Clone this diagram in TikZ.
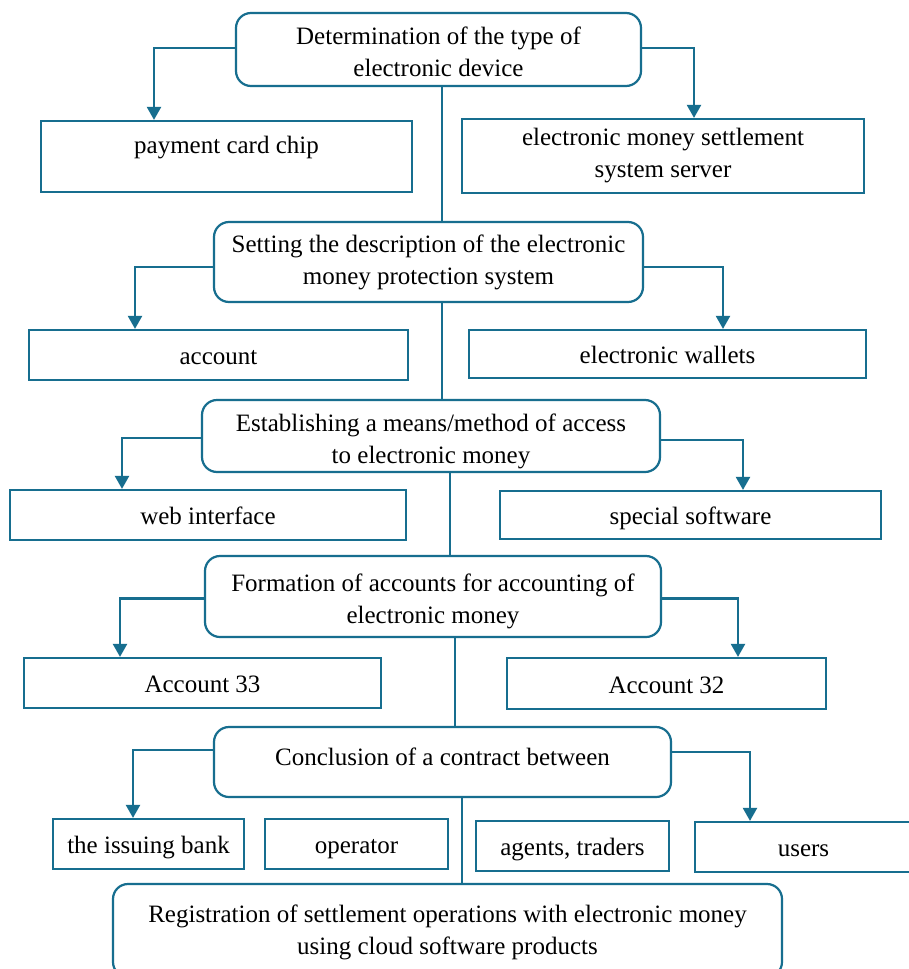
\documentclass[tikz,border=0pt]{standalone}
\usepackage{fontspec}
\setmainfont{Liberation Serif}
\usetikzlibrary{arrows.meta}
\definecolor{lineblue}{HTML}{176E8F}

\begin{document}
\begin{tikzpicture}[x=1pt,y=1pt,
  every node/.style={font=\fontsize{25}{32}\selectfont, align=center, inner sep=0pt},
  stage/.style={draw=lineblue, line width=2.2pt, rounded corners=15pt, fill=white},
  item/.style={draw=lineblue, line width=2.2pt, fill=white},
  oneline/.style={text height=25pt, text depth=6pt},
  link/.style={draw=lineblue, line width=2.2pt},
  arr/.style={link, -{Triangle[length=13pt,width=14pt]}}]

% white background, fixes the page size
\fill[white] (0,0) rectangle (909,-969);
\useasboundingbox (0,0) rectangle (909,-969);

% main stages (rounded boxes)
\node[stage, minimum width=405pt, minimum height=73pt] (device) at (438.5,-49.5) {\rule{0pt}{23pt}Determination of the type of\\electronic device};
\node[stage, minimum width=429pt, minimum height=80pt] (protect) at (428.5,-262) {Setting the description of the electronic\\money protection system};
\node[stage, minimum width=458pt, minimum height=72pt] (access) at (431,-436) {\rule{0pt}{29pt}Establishing a means/method of access\\to electronic money};
\node[stage, minimum width=456pt, minimum height=81pt] (accounts) at (433,-596.5) {\rule{0pt}{27pt}Formation of accounts for accounting of\\electronic money};
\node[stage, minimum width=457pt, minimum height=70pt, text depth=10pt] (contract) at (442.5,-762) {Conclusion of a contract between};
\node[stage, minimum width=669pt, minimum height=93pt] (cloud) at (447.5,-930.5) {\rule{0pt}{21pt}Registration of settlement operations with electronic money\\using cloud software products};

% result boxes
\node[item, minimum width=371pt, minimum height=71pt, text depth=24pt] (chip) at (226.5,-156.5) {payment card chip};
\node[item, minimum width=402pt, minimum height=74pt] (server) at (663,-156) {electronic money settlement\\system server};
\node[item, oneline, minimum width=379pt, minimum height=50pt] (account) at (218.5,-355) {account};
\node[item, oneline, minimum width=397pt, minimum height=48pt] (wallet) at (667.5,-354) {electronic wallets};
\node[item, oneline, minimum width=396pt, minimum height=50pt] (web) at (208,-515) {web interface};
\node[item, oneline, minimum width=381pt, minimum height=48pt] (soft) at (690.5,-515) {special software};
\node[item, oneline, minimum width=357pt, minimum height=50pt] (acc33) at (202.5,-683) {Account 33};
\node[item, oneline, minimum width=319pt, minimum height=51pt] (acc32) at (666.5,-683.5) {Account 32};
\node[item, oneline, minimum width=191pt, minimum height=50pt] (bank) at (148.5,-844) {the issuing bank};
\node[item, oneline, minimum width=183pt, minimum height=50pt] (oper) at (356.5,-844) {operator};
\node[item, oneline, minimum width=193pt, minimum height=50pt] (agent) at (572.5,-846) {agents, traders};
\node[item, oneline, minimum width=217pt, minimum height=50pt] (users) at (803.5,-847) {users};

% vertical lines between the stages
\draw[link] ([xshift=3.5pt]device.south) -- ([xshift=3.5pt]device.south |- protect.north);
\draw[link] ([xshift=13.5pt]protect.south) -- ([xshift=13.5pt]protect.south |- access.north);
\draw[link] ([xshift=19pt]access.south) -- ([xshift=19pt]access.south |- accounts.north);
\draw[link] ([xshift=22pt]accounts.south) -- ([xshift=22pt]accounts.south |- contract.north);
\draw[link] ([xshift=19.5pt]contract.south) -- ([xshift=19.5pt]contract.south |- cloud.north);

% side arrows
\draw[arr] ([yshift=1.5pt]device.west) -| ([xshift=-72.5pt]chip.north);
\draw[arr] ([yshift=1.5pt]device.east) -| ([xshift=31pt]server.north);
\draw[arr] ([yshift=-5pt]protect.west) -| ([xshift=-83.5pt]account.north);
\draw[arr] ([yshift=-5pt]protect.east) -| ([xshift=55.5pt]wallet.north);
\draw[arr] ([yshift=-2pt]access.west) -| ([xshift=-86pt]web.north);
\draw[arr] ([yshift=-4pt]access.east) -| ([xshift=52.5pt]soft.north);
\draw[arr] ([yshift=-2pt]accounts.west) -| ([xshift=-82.5pt]acc33.north);
\draw[arr] ([yshift=-2pt]accounts.east) -| ([xshift=71.5pt]acc32.north);
\draw[arr] ([yshift=12pt]contract.west) -| ([xshift=-15.5pt]bank.north);
\draw[arr] ([yshift=10pt]contract.east) -| ([xshift=-53.5pt]users.north);

\end{tikzpicture}
\end{document}
